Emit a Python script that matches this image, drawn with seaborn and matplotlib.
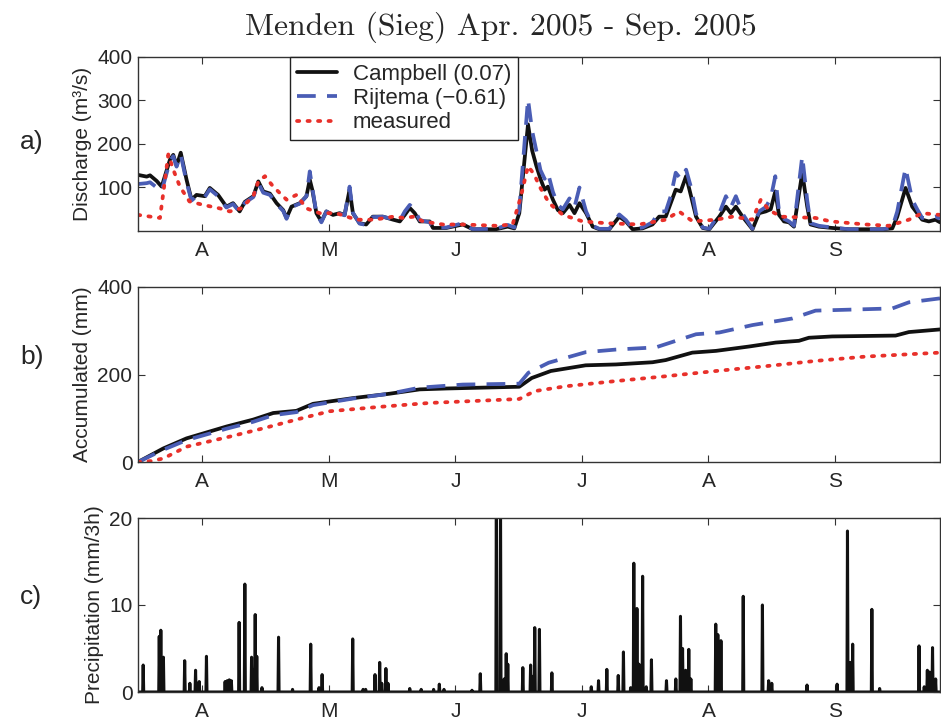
import numpy as np
import matplotlib
matplotlib.use("Agg")
import matplotlib.pyplot as plt
import seaborn as sns

# ---------------- data (days since 1 Apr 2005) ----------------
month_ticks = [15.5, 46.0, 76.5, 107.0, 137.5, 168.0]
month_labels = ["A", "M", "J", "J", "A", "S"]

day_q = [0, 2.1, 2.9, 4.5, 5.7, 7.7, 8.5, 9.3, 10.3, 11.7, 12.9, 14.1, 16.1, 17.3, 19.3,
         21.3, 22.9, 24.5, 25.75, 27.8, 29.0, 30.2, 31.8, 33.4, 35.0, 35.8, 37.0, 39.0,
         40.6, 41.4, 42.0, 43.0, 44.2, 45.4, 47.0, 48.6, 49.8, 51.0, 51.8, 53.4, 55.0,
         56.6, 59.0, 61.5, 63.1, 64.3, 65.5, 66.7, 67.9, 70.3, 71.1, 74.3, 78.3, 80.7,
         86.3, 89.1, 90.7, 91.9, 94.0, 95.0, 96.0, 97.0, 98.0, 98.8, 100.0, 101.2, 102.4,
         104.0, 105.2, 106.4, 108.0, 109.6, 111.2, 113.6, 116.0, 117.6, 119.2, 121.6,
         124.0, 125.6, 127.2, 128.4, 129.6, 130.8, 132.1, 133.3, 134.5, 136.1, 137.7,
         140.1, 141.7, 142.9, 144.1, 145.7, 148.1, 149.7, 151.3, 152.5, 153.6, 154.5,
         155.7, 156.9, 158.1, 160.1, 161.3, 162.1, 164.1, 167.3, 171.4, 175.4, 179.4,
         181.8, 183.0, 185.0, 186.6, 187.8, 189.0, 190.6, 192.2, 193.3]
q_campbell = [129, 125, 128, 115, 102, 164, 175, 150, 180, 118, 72, 83, 80, 99, 83,
              56, 64, 45, 67, 80, 114, 91, 86, 64, 48, 30, 56, 64,
              80, 118, 95, 41, 22, 45, 37, 41, 37, 95, 41, 18, 15,
              33, 33, 26, 22, 37, 53, 41, 22, 22, 7, 7, 15, 4,
              4, 10, 6, 41, 245, 185, 150, 120, 95, 102, 72, 48, 41,
              60, 41, 64, 41, 10, 4, 4, 33, 22, 4, 6,
              15, 33, 33, 64, 95, 91, 126, 80, 33, 7, 4,
              33, 56, 41, 56, 33, 4, 41, 45, 50, 91, 37,
              22, 20, 10, 134, 56, 15, 10, 7, 4, 4, 4,
              6, 33, 99, 56, 41, 26, 22, 26, 20]
q_rijtema = [108, 110, 112, 100, 92, 160, 172, 148, 176, 112, 70, 80, 78, 96, 80,
             54, 62, 44, 65, 78, 110, 88, 83, 62, 46, 28, 55, 63,
             80, 137, 100, 40, 20, 45, 36, 40, 36, 102, 42, 17, 14,
             32, 33, 27, 24, 45, 60, 48, 25, 20, 8, 8, 18, 4,
             5, 14, 8, 50, 303, 230, 185, 140, 120, 134, 90, 60, 50,
             75, 55, 100, 45, 12, 5, 5, 38, 25, 5, 8,
             20, 45, 45, 80, 134, 120, 141, 100, 40, 8, 5,
             40, 80, 55, 80, 40, 5, 45, 55, 75, 126, 45,
             28, 22, 12, 172, 70, 18, 12, 8, 4, 4, 4,
             8, 45, 145, 72, 50, 30, 30, 33, 28]

day_m = [0, 5.3, 6.2, 7.3, 8.5, 10.1, 12.4, 15.7, 19.7, 22.1, 24.8, 27.8, 29.0, 30.6,
         32.6, 35.8, 38.2, 40.6, 43.8, 47.8, 52.6, 57.0, 61.5, 64.0, 66.5, 68.7, 73.5,
         78.3, 86.3, 90.3, 92.3, 94.0, 95.5, 96.8, 99.1, 102.4, 107.2, 112.8, 120.8,
         127.2, 130.4, 133.7, 139.3, 143.3, 148.1, 150.1, 152.1, 155.0, 163.3, 167.0,
         175.4, 181.0, 185.8, 189.0, 193.3]
q_measured = [37, 30, 95, 176, 141, 102, 68, 60, 52, 45, 52, 80, 114, 126,
              102, 72, 83, 52, 41, 41, 26, 26, 33, 30, 33, 22, 15,
              15, 12, 15, 80, 149, 130, 102, 64, 37, 22, 18, 15,
              26, 45, 22, 26, 33, 26, 72, 48, 33, 30, 22,
              15, 12, 26, 41, 37]

day_ac = [0, 6.1, 11.7, 21.3, 27.8, 32.6, 38.2, 42.2, 51.8, 60.6, 67.9, 74.3, 91.9, 94.9,
          99.5, 107.9, 115.2, 124.0, 127.2, 133.6, 139.3, 147.3, 153.7, 159.3, 161.7,
          167.3, 182.6, 185.8, 193.3]
acc_campbell = [0, 31, 54, 81, 97, 112, 117, 133, 146, 156, 166, 168, 172, 192,
                208, 221, 223, 228, 233, 250, 254, 264, 273, 277, 284,
                287, 289, 297, 303]
day_ar = [0, 6.1, 11.7, 21.3, 27.8, 32.6, 38.2, 42.2, 51.8, 60.6, 67.9, 78.3, 91.9, 94.1,
          99.0, 107.9, 115.2, 124.8, 134.5, 140.1, 148.1, 157.7, 163.3, 181.8, 185.8, 193.3]
acc_rijtema = [0, 28, 50, 76, 92, 107, 114, 130, 145, 156, 170, 177, 179, 204,
               227, 251, 257, 262, 292, 296, 313, 328, 346, 351, 365, 374]
day_am = [0, 3.0, 6.1, 11.7, 22.1, 30.2, 38.2, 46.2, 58.2, 70.3, 82.3, 91.9, 95.6, 103.0,
          115.2, 127.2, 139.3, 151.3, 163.3, 175.4, 193.3]
acc_measured = [0, 2, 8, 35, 58, 77, 97, 116, 126, 135, 140, 144, 162, 173,
                185, 196, 208, 219, 231, 241, 250]

precip_day = [1.3, 5.1, 5.5, 6.1, 11.3, 12.5, 13.9, 14.8, 16.5, 21.0, 21.5, 22.0, 22.5,
              24.4, 25.8, 27.4, 27.8, 28.2, 28.6, 29.9, 33.9, 37.2, 41.6, 43.6, 44.4,
              51.8, 54.2, 54.9, 57.1, 58.3, 58.8, 59.8, 60.2, 65.5, 68.2, 71.2, 72.6,
              73.8, 80.5, 82.5, 86.4, 87.4, 88.3, 88.7, 89.1, 92.7, 94.6, 95.1, 95.6,
              96.8, 99.8, 109.2, 111.0, 113.0, 115.7, 117.0, 118.7, 119.5, 120.3, 120.8,
              121.6, 122.5, 123.7, 127.4, 129.6, 130.8, 131.2, 132.0, 132.8, 133.2,
              139.3, 139.7, 140.5, 145.9, 150.5, 152.0, 152.8, 161.3, 168.5, 171.0,
              171.6, 172.3, 176.9, 178.8, 188.2, 189.5, 190.3, 190.8, 191.5, 192.2]
precip_val = [3.1, 6.4, 7.1, 4.0, 3.6, 1.0, 2.5, 1.2, 4.1, 1.2, 1.3, 1.4, 1.3,
              8.0, 12.4, 4.0, 2.5, 8.9, 4.1, 0.5, 6.3, 0.3, 5.5, 0.5, 2.0,
              6.1, 0.3, 0.3, 2.0, 3.4, 1.0, 2.7, 1.0, 0.4, 0.3, 0.3, 0.9,
              0.3, 0.2, 2.1, 24.0, 22.0, 1.5, 4.4, 3.2, 2.8, 3.1, 1.8, 7.4,
              7.2, 2.2, 0.6, 1.3, 2.6, 1.9, 4.6, 0.5, 14.8, 9.6, 3.2,
              13.3, 0.6, 3.7, 1.3, 1.5, 8.7, 5.0, 2.5, 4.9, 1.5,
              7.8, 6.6, 5.9, 11.0, 10.0, 1.3, 1.0, 0.8, 0.9, 18.5,
              3.4, 5.5, 9.5, 0.4, 5.3, 0.6, 2.5, 2.3, 5.1, 1.5]

# ---------------- style ----------------
sns.set_theme(style="ticks")
plt.rcParams["font.family"] = ["Liberation Sans", "DejaVu Sans"]
plt.rcParams["axes.edgecolor"] = "#333333"
plt.rcParams["axes.linewidth"] = 1.0

BLACK = "#111111"
BLUE = "#4a5db5"
RED = "#e8302a"
FS = 15

fig = plt.figure(figsize=(9.41, 7.22), dpi=100)
left, width = 138 / 941, 802 / 941
ax_a = fig.add_axes([left, 1 - 231 / 722, width, 174 / 722])
ax_b = fig.add_axes([left, 1 - 462 / 722, width, 175 / 722])
ax_c = fig.add_axes([left, 1 - 692 / 722, width, 174 / 722])

# a) discharge
sns.lineplot(x=day_q, y=q_campbell, ax=ax_a, color=BLACK, linewidth=2.7,
             estimator=None, sort=False, label="Campbell (0.07)")
sns.lineplot(x=day_q, y=q_rijtema, ax=ax_a, color=BLUE, linewidth=2.7,
             estimator=None, sort=False, linestyle=(0, (5, 3)),
             label="Rijtema (\u22120.61)")
sns.lineplot(x=day_m, y=q_measured, ax=ax_a, color=RED, linewidth=2.7,
             estimator=None, sort=False, linestyle=(0, (0.6, 2.2)),
             dash_capstyle="round", label="measured")
ax_a.set_ylim(0, 400)
ax_a.set_yticks([100, 200, 300, 400])
ax_a.set_ylabel("Discharge (m\u00b3/s)", fontsize=FS)
leg = ax_a.legend(loc="upper left", bbox_to_anchor=(0.19, 1.0), borderaxespad=0,
                  fontsize=16, frameon=True, fancybox=False, framealpha=1,
                  edgecolor="#222222", handlelength=1.8, handletextpad=0.7,
                  labelspacing=0.15, borderpad=0.3)
leg.get_frame().set_linewidth(1.0)

# b) accumulated
sns.lineplot(x=day_ac, y=acc_campbell, ax=ax_b, color=BLACK, linewidth=2.7,
             estimator=None, sort=False)
sns.lineplot(x=day_ar, y=acc_rijtema, ax=ax_b, color=BLUE, linewidth=2.7,
             estimator=None, sort=False, linestyle=(0, (5, 3)))
sns.lineplot(x=day_am, y=acc_measured, ax=ax_b, color=RED, linewidth=2.7,
             estimator=None, sort=False, linestyle=(0, (0.6, 2.2)),
             dash_capstyle="round")
ax_b.set_ylim(0, 400)
ax_b.set_yticks([0, 200, 400])
ax_b.set_ylabel("Accumulated (mm)", fontsize=FS)

# c) precipitation (3-hourly series)
t3h = np.arange(0, 193.6, 0.125)
p3h = np.zeros_like(t3h)
for d, v in zip(precip_day, precip_val):
    i = int(round(d / 0.125))
    p3h[i] = max(p3h[i], v)
sns.lineplot(x=t3h, y=p3h, ax=ax_c, color=BLACK, linewidth=2.2,
             estimator=None, sort=False)
ax_c.set_ylim(0, 20)
ax_c.set_yticks([0, 10, 20])
ax_c.set_ylabel("Precipitation (mm/3h)", fontsize=FS)

for ax in (ax_a, ax_b, ax_c):
    ax.set_xlim(0, 193.3)
    ax.set_xticks(month_ticks)
    ax.set_xticklabels(month_labels)
    ax.set_xlabel("")
    ax.tick_params(direction="in", top=True, right=True, length=5, width=0.8,
                   labelsize=FS, color="#333333")
    ax.tick_params(axis="x", pad=7)
    ax.tick_params(axis="y", pad=4)
    for s in ax.spines.values():
        s.set_visible(True)

fig.text(20 / 941, 1 - 142 / 722, "a)", fontsize=19, va="center", ha="left")
fig.text(20 / 941, 1 - 357 / 722, "b)", fontsize=19, va="center", ha="left")
fig.text(20 / 941, 1 - 597 / 722, "c)", fontsize=19, va="center", ha="left")

fig.text(501 / 941, 1 - 27 / 722, "Menden (Sieg) Apr. 2005 - Sep. 2005",
         fontsize=22.8, family="cmr10", ha="center", va="center")

fig.savefig("out.png", dpi=100)
